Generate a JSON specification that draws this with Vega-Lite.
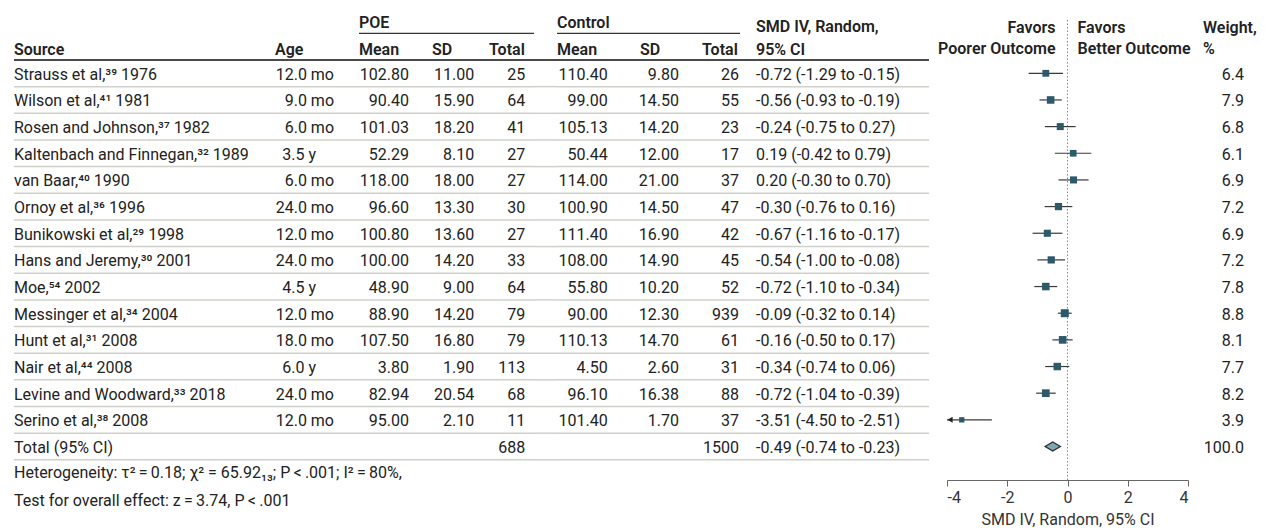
{
"$schema": "https://vega.github.io/schema/vega-lite/v6.json",
"padding": {"left": 13, "top": 0, "right": 0, "bottom": 0},
"spacing": 0,
"bounds": "flush",
"align": "none",
"config": {"view": {"stroke": null}, "font": "Roboto", "text": {"fontSize": 16, "color": "#222222", "font": "Roboto"}, "axisY": {"disable": true}},
"datasets": {"studies": [
{"kind": "study", "source": "Strauss et al,³⁹ 1976", "age": 12.0, "unit": "mo", "pm": 102.80, "psd": 11.00, "pn": 25, "cm": 110.40, "csd": 9.80, "cn": 26, "smd": -0.72, "lo": -1.29, "hi": -0.15, "w": 6.4},
{"kind": "study", "source": "Wilson et al,⁴¹ 1981", "age": 9.0, "unit": "mo", "pm": 90.40, "psd": 15.90, "pn": 64, "cm": 99.00, "csd": 14.50, "cn": 55, "smd": -0.56, "lo": -0.93, "hi": -0.19, "w": 7.9},
{"kind": "study", "source": "Rosen and Johnson,³⁷ 1982", "age": 6.0, "unit": "mo", "pm": 101.03, "psd": 18.20, "pn": 41, "cm": 105.13, "csd": 14.20, "cn": 23, "smd": -0.24, "lo": -0.75, "hi": 0.27, "w": 6.8},
{"kind": "study", "source": "Kaltenbach and Finnegan,³² 1989", "age": 3.5, "unit": "y", "pm": 52.29, "psd": 8.10, "pn": 27, "cm": 50.44, "csd": 12.00, "cn": 17, "smd": 0.19, "lo": -0.42, "hi": 0.79, "w": 6.1},
{"kind": "study", "source": "van Baar,⁴⁰ 1990", "age": 6.0, "unit": "mo", "pm": 118.00, "psd": 18.00, "pn": 27, "cm": 114.00, "csd": 21.00, "cn": 37, "smd": 0.20, "lo": -0.30, "hi": 0.70, "w": 6.9},
{"kind": "study", "source": "Ornoy et al,³⁶ 1996", "age": 24.0, "unit": "mo", "pm": 96.60, "psd": 13.30, "pn": 30, "cm": 100.90, "csd": 14.50, "cn": 47, "smd": -0.30, "lo": -0.76, "hi": 0.16, "w": 7.2},
{"kind": "study", "source": "Bunikowski et al,²⁹ 1998", "age": 12.0, "unit": "mo", "pm": 100.80, "psd": 13.60, "pn": 27, "cm": 111.40, "csd": 16.90, "cn": 42, "smd": -0.67, "lo": -1.16, "hi": -0.17, "w": 6.9},
{"kind": "study", "source": "Hans and Jeremy,³⁰ 2001", "age": 24.0, "unit": "mo", "pm": 100.00, "psd": 14.20, "pn": 33, "cm": 108.00, "csd": 14.90, "cn": 45, "smd": -0.54, "lo": -1.00, "hi": -0.08, "w": 7.2},
{"kind": "study", "source": "Moe,⁵⁴ 2002", "age": 4.5, "unit": "y", "pm": 48.90, "psd": 9.00, "pn": 64, "cm": 55.80, "csd": 10.20, "cn": 52, "smd": -0.72, "lo": -1.10, "hi": -0.34, "w": 7.8},
{"kind": "study", "source": "Messinger et al,³⁴ 2004", "age": 12.0, "unit": "mo", "pm": 88.90, "psd": 14.20, "pn": 79, "cm": 90.00, "csd": 12.30, "cn": 939, "smd": -0.09, "lo": -0.32, "hi": 0.14, "w": 8.8},
{"kind": "study", "source": "Hunt et al,³¹ 2008", "age": 18.0, "unit": "mo", "pm": 107.50, "psd": 16.80, "pn": 79, "cm": 110.13, "csd": 14.70, "cn": 61, "smd": -0.16, "lo": -0.50, "hi": 0.17, "w": 8.1},
{"kind": "study", "source": "Nair et al,⁴⁴ 2008", "age": 6.0, "unit": "y", "pm": 3.80, "psd": 1.90, "pn": 113, "cm": 4.50, "csd": 2.60, "cn": 31, "smd": -0.34, "lo": -0.74, "hi": 0.06, "w": 7.7},
{"kind": "study", "source": "Levine and Woodward,³³ 2018", "age": 24.0, "unit": "mo", "pm": 82.94, "psd": 20.54, "pn": 68, "cm": 96.10, "csd": 16.38, "cn": 88, "smd": -0.72, "lo": -1.04, "hi": -0.39, "w": 8.2},
{"kind": "study", "source": "Serino et al,³⁸ 2008", "age": 12.0, "unit": "mo", "pm": 95.00, "psd": 2.10, "pn": 11, "cm": 101.40, "csd": 1.70, "cn": 37, "smd": -3.51, "lo": -4.50, "hi": -2.51, "w": 3.9},
{"kind": "total", "source": "Total (95% CI)", "pn": 688, "cn": 1500, "smd": -0.49, "lo": -0.74, "hi": -0.23, "w": 100.0}
]},
"hconcat": [
{"width": 261, "height": 529, "layer": [
 {"data": {"name": "studies"}, "mark": {"type": "rule", "color": "#d0d0ca", "strokeWidth": 1.5}, "encoding": {"y": {"field": "source", "type": "nominal", "bandPosition": 1, "axis": null, "scale": {"type": "band", "domain": ["h1","h2","Strauss et al,³⁹ 1976","Wilson et al,⁴¹ 1981","Rosen and Johnson,³⁷ 1982","Kaltenbach and Finnegan,³² 1989","van Baar,⁴⁰ 1990","Ornoy et al,³⁶ 1996","Bunikowski et al,²⁹ 1998","Hans and Jeremy,³⁰ 2001","Moe,⁵⁴ 2002","Messinger et al,³⁴ 2004","Hunt et al,³¹ 2008","Nair et al,⁴⁴ 2008","Levine and Woodward,³³ 2018","Serino et al,³⁸ 2008","Total (95% CI)","het","test"], "paddingInner": 0, "paddingOuter": 0.422, "align": 0.296}}}},
 {"data": {"values": [{}]}, "mark": {"type": "rule", "color": "#4a4a4a", "strokeWidth": 2}, "encoding": {"y": {"datum": "h2", "bandPosition": 1}}},
 {"data": {"name": "studies"}, "mark": {"type": "text", "align": "left", "x": 0, "dy": 1.5}, "encoding": {"y": {"field": "source", "type": "nominal"}, "text": {"field": "source"}}},
 {"data": {"values": [{}]}, "mark": {"type": "text", "align": "left", "x": 0, "fontWeight": 600, "dy": 3}, "encoding": {"y": {"datum": "h2"}, "text": {"value": "Source"}}},
 {"data": {"values": [{}]}, "mark": {"type": "text", "align": "left", "x": 0, "dy": -0.5}, "encoding": {"y": {"datum": "het"}, "text": {"value": "Heterogeneity: τ²\u2009=\u20090.18; χ² = 65.92₁₃; P\u2009<\u2009.001; I²\u2009=\u200980%,"}}},
 {"data": {"values": [{}]}, "mark": {"type": "text", "align": "left", "x": 0, "dy": 1}, "encoding": {"y": {"datum": "test"}, "text": {"value": "Test for overall effect: z\u2009=\u20093.74, P\u2009<\u2009.001"}}}
]},
{"width": 84, "height": 529, "layer": [
 {"data": {"name": "studies"}, "mark": {"type": "rule", "color": "#d0d0ca", "strokeWidth": 1.5}, "encoding": {"y": {"field": "source", "type": "nominal", "bandPosition": 1, "axis": null, "scale": {"type": "band", "domain": ["h1","h2","Strauss et al,³⁹ 1976","Wilson et al,⁴¹ 1981","Rosen and Johnson,³⁷ 1982","Kaltenbach and Finnegan,³² 1989","van Baar,⁴⁰ 1990","Ornoy et al,³⁶ 1996","Bunikowski et al,²⁹ 1998","Hans and Jeremy,³⁰ 2001","Moe,⁵⁴ 2002","Messinger et al,³⁴ 2004","Hunt et al,³¹ 2008","Nair et al,⁴⁴ 2008","Levine and Woodward,³³ 2018","Serino et al,³⁸ 2008","Total (95% CI)","het","test"], "paddingInner": 0, "paddingOuter": 0.422, "align": 0.296}}}},
 {"data": {"values": [{}]}, "mark": {"type": "rule", "color": "#4a4a4a", "strokeWidth": 2}, "encoding": {"y": {"datum": "h2", "bandPosition": 1}}},
 {"data": {"values": [{}]}, "mark": {"type": "text", "align": "left", "x": 0, "fontWeight": 600, "dy": 3}, "encoding": {"y": {"datum": "h2"}, "text": {"value": "Age"}}},
 {"data": {"name": "studies"}, "transform": [{"filter": "datum.unit === 'mo'"}, {"calculate": "format(datum.age, '.1f') + ' ' + datum.unit", "as": "agelab"}], "mark": {"type": "text", "align": "right", "x": "width", "dx": -25, "dy": 1.5}, "encoding": {"y": {"field": "source", "type": "nominal"}, "text": {"field": "agelab"}}},
 {"data": {"name": "studies"}, "transform": [{"filter": "datum.unit === 'y'"}, {"calculate": "format(datum.age, '.1f') + ' ' + datum.unit", "as": "agelab"}], "mark": {"type": "text", "align": "right", "x": "width", "dx": -43, "dy": 1.5}, "encoding": {"y": {"field": "source", "type": "nominal"}, "text": {"field": "agelab"}}}
]},
{"width": 73, "height": 529, "layer": [
 {"data": {"name": "studies"}, "mark": {"type": "rule", "color": "#d0d0ca", "strokeWidth": 1.5}, "encoding": {"y": {"field": "source", "type": "nominal", "bandPosition": 1, "axis": null, "scale": {"type": "band", "domain": ["h1","h2","Strauss et al,³⁹ 1976","Wilson et al,⁴¹ 1981","Rosen and Johnson,³⁷ 1982","Kaltenbach and Finnegan,³² 1989","van Baar,⁴⁰ 1990","Ornoy et al,³⁶ 1996","Bunikowski et al,²⁹ 1998","Hans and Jeremy,³⁰ 2001","Moe,⁵⁴ 2002","Messinger et al,³⁴ 2004","Hunt et al,³¹ 2008","Nair et al,⁴⁴ 2008","Levine and Woodward,³³ 2018","Serino et al,³⁸ 2008","Total (95% CI)","het","test"], "paddingInner": 0, "paddingOuter": 0.422, "align": 0.296}}}},
 {"data": {"values": [{}]}, "mark": {"type": "rule", "color": "#4a4a4a", "strokeWidth": 2}, "encoding": {"y": {"datum": "h2", "bandPosition": 1}}},
 {"data": {"values": [{}]}, "mark": {"type": "rule", "color": "#333333", "strokeWidth": 1.2}, "encoding": {"y": {"datum": "h1", "bandPosition": 1}}},
 {"data": {"values": [{}]}, "mark": {"type": "text", "align": "left", "x": 0, "fontWeight": 600, "dy": 3}, "encoding": {"y": {"datum": "h1"}, "text": {"value": "POE"}}},
 {"data": {"values": [{}]}, "mark": {"type": "text", "align": "left", "x": 0, "fontWeight": 600, "dy": 3}, "encoding": {"y": {"datum": "h2"}, "text": {"value": "Mean"}}},
 {"data": {"name": "studies"}, "transform": [{"filter": "datum.kind === 'study'"}], "mark": {"type": "text", "align": "right", "x": "width", "dx": -23, "dy": 1.5}, "encoding": {"y": {"field": "source", "type": "nominal"}, "text": {"field": "pm", "type": "quantitative", "format": ".2f"}}}
]},
{"width": 57, "height": 529, "layer": [
 {"data": {"name": "studies"}, "mark": {"type": "rule", "color": "#d0d0ca", "strokeWidth": 1.5}, "encoding": {"y": {"field": "source", "type": "nominal", "bandPosition": 1, "axis": null, "scale": {"type": "band", "domain": ["h1","h2","Strauss et al,³⁹ 1976","Wilson et al,⁴¹ 1981","Rosen and Johnson,³⁷ 1982","Kaltenbach and Finnegan,³² 1989","van Baar,⁴⁰ 1990","Ornoy et al,³⁶ 1996","Bunikowski et al,²⁹ 1998","Hans and Jeremy,³⁰ 2001","Moe,⁵⁴ 2002","Messinger et al,³⁴ 2004","Hunt et al,³¹ 2008","Nair et al,⁴⁴ 2008","Levine and Woodward,³³ 2018","Serino et al,³⁸ 2008","Total (95% CI)","het","test"], "paddingInner": 0, "paddingOuter": 0.422, "align": 0.296}}}},
 {"data": {"values": [{}]}, "mark": {"type": "rule", "color": "#4a4a4a", "strokeWidth": 2}, "encoding": {"y": {"datum": "h2", "bandPosition": 1}}},
 {"data": {"values": [{}]}, "mark": {"type": "rule", "color": "#333333", "strokeWidth": 1.2}, "encoding": {"y": {"datum": "h1", "bandPosition": 1}}},
 {"data": {"values": [{}]}, "mark": {"type": "text", "align": "left", "x": 0, "fontWeight": 600, "dy": 3}, "encoding": {"y": {"datum": "h2"}, "text": {"value": "SD"}}},
 {"data": {"name": "studies"}, "transform": [{"filter": "datum.kind === 'study'"}], "mark": {"type": "text", "align": "right", "x": "width", "dx": -14.7, "dy": 1.5}, "encoding": {"y": {"field": "source", "type": "nominal"}, "text": {"field": "psd", "type": "quantitative", "format": ".2f"}}}
]},
{"width": 45, "height": 529, "layer": [
 {"data": {"name": "studies"}, "mark": {"type": "rule", "color": "#d0d0ca", "strokeWidth": 1.5}, "encoding": {"y": {"field": "source", "type": "nominal", "bandPosition": 1, "axis": null, "scale": {"type": "band", "domain": ["h1","h2","Strauss et al,³⁹ 1976","Wilson et al,⁴¹ 1981","Rosen and Johnson,³⁷ 1982","Kaltenbach and Finnegan,³² 1989","van Baar,⁴⁰ 1990","Ornoy et al,³⁶ 1996","Bunikowski et al,²⁹ 1998","Hans and Jeremy,³⁰ 2001","Moe,⁵⁴ 2002","Messinger et al,³⁴ 2004","Hunt et al,³¹ 2008","Nair et al,⁴⁴ 2008","Levine and Woodward,³³ 2018","Serino et al,³⁸ 2008","Total (95% CI)","het","test"], "paddingInner": 0, "paddingOuter": 0.422, "align": 0.296}}}},
 {"data": {"values": [{}]}, "mark": {"type": "rule", "color": "#4a4a4a", "strokeWidth": 2}, "encoding": {"y": {"datum": "h2", "bandPosition": 1}}},
 {"data": {"values": [{}]}, "mark": {"type": "rule", "color": "#333333", "strokeWidth": 1.2}, "encoding": {"y": {"datum": "h1", "bandPosition": 1}}},
 {"data": {"values": [{}]}, "mark": {"type": "text", "align": "left", "x": 0, "fontWeight": 600, "dy": 3}, "encoding": {"y": {"datum": "h2"}, "text": {"value": "Total"}}},
 {"data": {"name": "studies"}, "mark": {"type": "text", "align": "right", "x": "width", "dx": -8.7, "dy": 1.5}, "encoding": {"y": {"field": "source", "type": "nominal"}, "text": {"field": "pn", "type": "quantitative", "format": "d"}}}
]},
{"width": 23, "height": 529, "layer": [
 {"data": {"name": "studies"}, "mark": {"type": "rule", "color": "#d0d0ca", "strokeWidth": 1.5}, "encoding": {"y": {"field": "source", "type": "nominal", "bandPosition": 1, "axis": null, "scale": {"type": "band", "domain": ["h1","h2","Strauss et al,³⁹ 1976","Wilson et al,⁴¹ 1981","Rosen and Johnson,³⁷ 1982","Kaltenbach and Finnegan,³² 1989","van Baar,⁴⁰ 1990","Ornoy et al,³⁶ 1996","Bunikowski et al,²⁹ 1998","Hans and Jeremy,³⁰ 2001","Moe,⁵⁴ 2002","Messinger et al,³⁴ 2004","Hunt et al,³¹ 2008","Nair et al,⁴⁴ 2008","Levine and Woodward,³³ 2018","Serino et al,³⁸ 2008","Total (95% CI)","het","test"], "paddingInner": 0, "paddingOuter": 0.422, "align": 0.296}}}},
 {"data": {"values": [{}]}, "mark": {"type": "rule", "color": "#4a4a4a", "strokeWidth": 2}, "encoding": {"y": {"datum": "h2", "bandPosition": 1}}}
]},
{"width": 83, "height": 529, "layer": [
 {"data": {"name": "studies"}, "mark": {"type": "rule", "color": "#d0d0ca", "strokeWidth": 1.5}, "encoding": {"y": {"field": "source", "type": "nominal", "bandPosition": 1, "axis": null, "scale": {"type": "band", "domain": ["h1","h2","Strauss et al,³⁹ 1976","Wilson et al,⁴¹ 1981","Rosen and Johnson,³⁷ 1982","Kaltenbach and Finnegan,³² 1989","van Baar,⁴⁰ 1990","Ornoy et al,³⁶ 1996","Bunikowski et al,²⁹ 1998","Hans and Jeremy,³⁰ 2001","Moe,⁵⁴ 2002","Messinger et al,³⁴ 2004","Hunt et al,³¹ 2008","Nair et al,⁴⁴ 2008","Levine and Woodward,³³ 2018","Serino et al,³⁸ 2008","Total (95% CI)","het","test"], "paddingInner": 0, "paddingOuter": 0.422, "align": 0.296}}}},
 {"data": {"values": [{}]}, "mark": {"type": "rule", "color": "#4a4a4a", "strokeWidth": 2}, "encoding": {"y": {"datum": "h2", "bandPosition": 1}}},
 {"data": {"values": [{}]}, "mark": {"type": "rule", "color": "#333333", "strokeWidth": 1.2}, "encoding": {"y": {"datum": "h1", "bandPosition": 1}}},
 {"data": {"values": [{}]}, "mark": {"type": "text", "align": "left", "x": 0, "fontWeight": 600, "dy": 3}, "encoding": {"y": {"datum": "h1"}, "text": {"value": "Control"}}},
 {"data": {"values": [{}]}, "mark": {"type": "text", "align": "left", "x": 0, "fontWeight": 600, "dy": 3}, "encoding": {"y": {"datum": "h2"}, "text": {"value": "Mean"}}},
 {"data": {"name": "studies"}, "transform": [{"filter": "datum.kind === 'study'"}], "mark": {"type": "text", "align": "right", "x": "width", "dx": -32.3, "dy": 1.5}, "encoding": {"y": {"field": "source", "type": "nominal"}, "text": {"field": "cm", "type": "quantitative", "format": ".2f"}}}
]},
{"width": 62, "height": 529, "layer": [
 {"data": {"name": "studies"}, "mark": {"type": "rule", "color": "#d0d0ca", "strokeWidth": 1.5}, "encoding": {"y": {"field": "source", "type": "nominal", "bandPosition": 1, "axis": null, "scale": {"type": "band", "domain": ["h1","h2","Strauss et al,³⁹ 1976","Wilson et al,⁴¹ 1981","Rosen and Johnson,³⁷ 1982","Kaltenbach and Finnegan,³² 1989","van Baar,⁴⁰ 1990","Ornoy et al,³⁶ 1996","Bunikowski et al,²⁹ 1998","Hans and Jeremy,³⁰ 2001","Moe,⁵⁴ 2002","Messinger et al,³⁴ 2004","Hunt et al,³¹ 2008","Nair et al,⁴⁴ 2008","Levine and Woodward,³³ 2018","Serino et al,³⁸ 2008","Total (95% CI)","het","test"], "paddingInner": 0, "paddingOuter": 0.422, "align": 0.296}}}},
 {"data": {"values": [{}]}, "mark": {"type": "rule", "color": "#4a4a4a", "strokeWidth": 2}, "encoding": {"y": {"datum": "h2", "bandPosition": 1}}},
 {"data": {"values": [{}]}, "mark": {"type": "rule", "color": "#333333", "strokeWidth": 1.2}, "encoding": {"y": {"datum": "h1", "bandPosition": 1}}},
 {"data": {"values": [{}]}, "mark": {"type": "text", "align": "left", "x": 0, "fontWeight": 600, "dy": 3}, "encoding": {"y": {"datum": "h2"}, "text": {"value": "SD"}}},
 {"data": {"name": "studies"}, "transform": [{"filter": "datum.kind === 'study'"}], "mark": {"type": "text", "align": "right", "x": "width", "dx": -23, "dy": 1.5}, "encoding": {"y": {"field": "source", "type": "nominal"}, "text": {"field": "csd", "type": "quantitative", "format": ".2f"}}}
]},
{"width": 38, "height": 529, "layer": [
 {"data": {"name": "studies"}, "mark": {"type": "rule", "color": "#d0d0ca", "strokeWidth": 1.5}, "encoding": {"y": {"field": "source", "type": "nominal", "bandPosition": 1, "axis": null, "scale": {"type": "band", "domain": ["h1","h2","Strauss et al,³⁹ 1976","Wilson et al,⁴¹ 1981","Rosen and Johnson,³⁷ 1982","Kaltenbach and Finnegan,³² 1989","van Baar,⁴⁰ 1990","Ornoy et al,³⁶ 1996","Bunikowski et al,²⁹ 1998","Hans and Jeremy,³⁰ 2001","Moe,⁵⁴ 2002","Messinger et al,³⁴ 2004","Hunt et al,³¹ 2008","Nair et al,⁴⁴ 2008","Levine and Woodward,³³ 2018","Serino et al,³⁸ 2008","Total (95% CI)","het","test"], "paddingInner": 0, "paddingOuter": 0.422, "align": 0.296}}}},
 {"data": {"values": [{}]}, "mark": {"type": "rule", "color": "#4a4a4a", "strokeWidth": 2}, "encoding": {"y": {"datum": "h2", "bandPosition": 1}}},
 {"data": {"values": [{}]}, "mark": {"type": "rule", "color": "#333333", "strokeWidth": 1.2}, "encoding": {"y": {"datum": "h1", "bandPosition": 1}}},
 {"data": {"values": [{}]}, "mark": {"type": "text", "align": "left", "x": 0, "fontWeight": 600, "dy": 3}, "encoding": {"y": {"datum": "h2"}, "text": {"value": "Total"}}},
 {"data": {"name": "studies"}, "mark": {"type": "text", "align": "right", "x": "width", "dx": -1, "dy": 1.5}, "encoding": {"y": {"field": "source", "type": "nominal"}, "text": {"field": "cn", "type": "quantitative", "format": "d"}}}
]},
{"width": 189, "height": 529, "layer": [
 {"data": {"name": "studies"}, "mark": {"type": "rule", "color": "#d0d0ca", "strokeWidth": 1.5}, "encoding": {"y": {"field": "source", "type": "nominal", "bandPosition": 1, "axis": null, "scale": {"type": "band", "domain": ["h1","h2","Strauss et al,³⁹ 1976","Wilson et al,⁴¹ 1981","Rosen and Johnson,³⁷ 1982","Kaltenbach and Finnegan,³² 1989","van Baar,⁴⁰ 1990","Ornoy et al,³⁶ 1996","Bunikowski et al,²⁹ 1998","Hans and Jeremy,³⁰ 2001","Moe,⁵⁴ 2002","Messinger et al,³⁴ 2004","Hunt et al,³¹ 2008","Nair et al,⁴⁴ 2008","Levine and Woodward,³³ 2018","Serino et al,³⁸ 2008","Total (95% CI)","het","test"], "paddingInner": 0, "paddingOuter": 0.422, "align": 0.296}}}},
 {"data": {"values": [{}]}, "mark": {"type": "rule", "color": "#4a4a4a", "strokeWidth": 2}, "encoding": {"y": {"datum": "h2", "bandPosition": 1}}},
 {"data": {"values": [{}]}, "mark": {"type": "text", "align": "left", "x": 0, "dx": 16, "fontWeight": 600, "dy": 7.5}, "encoding": {"y": {"datum": "h1"}, "text": {"value": "SMD IV, Random,"}}},
 {"data": {"values": [{}]}, "mark": {"type": "text", "align": "left", "x": 0, "dx": 16, "fontWeight": 600, "dy": 3}, "encoding": {"y": {"datum": "h2"}, "text": {"value": "95% CI"}}},
 {"data": {"name": "studies"}, "transform": [{"calculate": "replace(format(datum.smd, '.2f'), '\u2212', '-') + ' (' + replace(format(datum.lo, '.2f'), '\u2212', '-') + ' to ' + replace(format(datum.hi, '.2f'), '\u2212', '-') + ')'", "as": "cilab"}], "mark": {"type": "text", "align": "left", "x": 0, "dx": 16, "dy": 1.5}, "encoding": {"y": {"field": "source", "type": "nominal"}, "text": {"field": "cilab"}}}
]},
{"width": 18, "height": 529, "data": {"values": [{}]}, "mark": {"type": "text"}, "encoding": {"text": {"value": ""}}},
{"width": 241, "height": 480, "layer": [
 {"data": {"values": [{}]}, "mark": {"type": "rule", "color": "#888888", "strokeDash": [1.5, 2], "strokeWidth": 1}, "encoding": {
   "x": {"datum": 0, "type": "quantitative", "scale": {"domain": [-4, 4], "clamp": true, "nice": false, "zero": false}, "axis": {"values": [-4, -2, 0, 2, 4], "title": "SMD IV, Random, 95% CI", "grid": false, "labelExpr": "replace(datum.label, '\u2212', '-')", "tickSize": 6, "labelPadding": 3, "titlePadding": 6, "domainColor": "#666666", "tickColor": "#666666", "labelFontSize": 16, "titleFontSize": 16, "titleFontWeight": "normal", "labelColor": "#333333", "titleColor": "#333333", "labelFont": "Roboto", "titleFont": "Roboto"}},
   "y": {"datum": "h1", "bandPosition": 0.5, "axis": null, "scale": {"type": "band", "domain": ["h1","h2","Strauss et al,³⁹ 1976","Wilson et al,⁴¹ 1981","Rosen and Johnson,³⁷ 1982","Kaltenbach and Finnegan,³² 1989","van Baar,⁴⁰ 1990","Ornoy et al,³⁶ 1996","Bunikowski et al,²⁹ 1998","Hans and Jeremy,³⁰ 2001","Moe,⁵⁴ 2002","Messinger et al,³⁴ 2004","Hunt et al,³¹ 2008","Nair et al,⁴⁴ 2008","Levine and Woodward,³³ 2018","Serino et al,³⁸ 2008","Total (95% CI)"], "paddingInner": 0, "paddingOuter": 0.503, "align": 0.248}},
   "y2": {"value": "height"}}},
 {"data": {"name": "studies"}, "transform": [{"filter": "datum.kind === 'study'"}], "mark": {"type": "rule", "color": "#3a3a3a", "strokeWidth": 1.2}, "encoding": {"x": {"field": "lo", "type": "quantitative"}, "x2": {"field": "hi"}, "y": {"field": "source", "type": "nominal", "bandPosition": 0.5}}},
 {"data": {"name": "studies"}, "transform": [{"filter": "datum.kind === 'study'"}], "mark": {"type": "point", "shape": "square", "filled": true, "opacity": 1, "color": "#2c5a6b"}, "encoding": {"x": {"field": "smd", "type": "quantitative"}, "y": {"field": "source", "type": "nominal"}, "size": {"field": "w", "type": "quantitative", "scale": {"domain": [0, 8.8], "range": [0, 64]}, "legend": null}}},
 {"data": {"name": "studies"}, "transform": [{"filter": "datum.lo < -4"}], "mark": {"type": "point", "shape": "triangle-left", "filled": true, "opacity": 1, "color": "#222222", "size": 36, "xOffset": 3}, "encoding": {"x": {"field": "lo", "type": "quantitative"}, "y": {"field": "source", "type": "nominal"}}},
 {"data": {"name": "studies"}, "transform": [{"filter": "datum.kind === 'total'"}], "mark": {"type": "point", "shape": "M-1,0L0,-0.6L1,0L0,0.6Z", "filled": true, "opacity": 1, "fill": "#7fa5b5", "stroke": "#2a2a2a", "strokeWidth": 1.2, "size": 237}, "encoding": {"x": {"field": "smd", "type": "quantitative"}, "y": {"field": "source", "type": "nominal"}}},
 {"data": {"values": [{}]}, "mark": {"type": "text", "align": "right", "dx": -12, "dy": 8, "fontWeight": 600}, "encoding": {"x": {"datum": 0, "type": "quantitative"}, "y": {"datum": "h1"}, "text": {"value": "Favors"}}},
 {"data": {"values": [{}]}, "mark": {"type": "text", "align": "right", "dx": -12, "dy": 2.5, "fontWeight": 600}, "encoding": {"x": {"datum": 0, "type": "quantitative"}, "y": {"datum": "h2"}, "text": {"value": "Poorer Outcome"}}},
 {"data": {"values": [{}]}, "mark": {"type": "text", "align": "left", "dx": 10, "dy": 8, "fontWeight": 600}, "encoding": {"x": {"datum": 0, "type": "quantitative"}, "y": {"datum": "h1"}, "text": {"value": "Favors"}}},
 {"data": {"values": [{}]}, "mark": {"type": "text", "align": "left", "dx": 10, "dy": 2.5, "fontWeight": 600}, "encoding": {"x": {"datum": 0, "type": "quantitative"}, "y": {"datum": "h2"}, "text": {"value": "Better Outcome"}}}
]},
{"width": 80, "height": 529, "layer": [
 {"data": {"name": "studies"}, "mark": {"type": "text", "align": "right", "x": "width", "dx": -24, "dy": 1.5}, "encoding": {"y": {"field": "source", "type": "nominal", "axis": null, "scale": {"type": "band", "domain": ["h1","h2","Strauss et al,³⁹ 1976","Wilson et al,⁴¹ 1981","Rosen and Johnson,³⁷ 1982","Kaltenbach and Finnegan,³² 1989","van Baar,⁴⁰ 1990","Ornoy et al,³⁶ 1996","Bunikowski et al,²⁹ 1998","Hans and Jeremy,³⁰ 2001","Moe,⁵⁴ 2002","Messinger et al,³⁴ 2004","Hunt et al,³¹ 2008","Nair et al,⁴⁴ 2008","Levine and Woodward,³³ 2018","Serino et al,³⁸ 2008","Total (95% CI)","het","test"], "paddingInner": 0, "paddingOuter": 0.422, "align": 0.296}}, "text": {"field": "w", "type": "quantitative", "format": ".1f"}}},
 {"data": {"values": [{}]}, "mark": {"type": "text", "align": "left", "x": 0, "dx": 15, "fontWeight": 600, "dy": 8}, "encoding": {"y": {"datum": "h1"}, "text": {"value": "Weight,"}}},
 {"data": {"values": [{}]}, "mark": {"type": "text", "align": "left", "x": 0, "dx": 15, "fontWeight": 600, "dy": 2.5}, "encoding": {"y": {"datum": "h2"}, "text": {"value": "%"}}}
]}
]
}
